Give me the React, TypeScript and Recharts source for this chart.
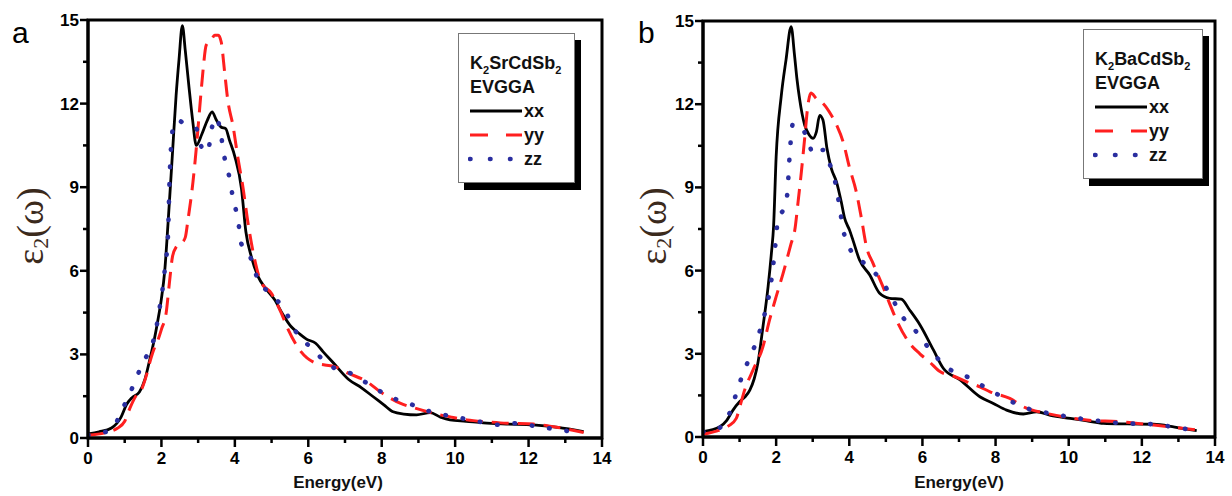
import React from "react";
import { LineChart, Line, XAxis, YAxis, Legend, ReferenceArea, Label } from "recharts";

// energy (eV) and eps2 values
const energyTicks = [0, 1, 2, 3, 4, 5, 6, 7, 8, 9, 10, 11, 12, 13, 14];
const epsTicks = [0, 1.5, 3, 4.5, 6, 7.5, 9, 10.5, 12, 13.5, 15];
const seriesNames = ["xx", "yy", "zz"];

// panel a : K2SrCdSb2
const srXx = [
  [0, 0.15], [0.3, 0.22], [0.64, 0.36], [0.9, 0.75], [1.05, 1.2], [1.2, 1.45], [1.4, 1.65], [1.55, 2.1],
  [1.68, 2.8], [1.8, 3.5], [1.9, 4.2], [2.0, 5.0], [2.09, 6.0], [2.18, 7.7], [2.3, 10.2], [2.4, 12.3],
  [2.48, 13.6], [2.57, 14.8], [2.65, 13.9], [2.75, 12.6], [2.85, 11.4], [2.95, 10.5], [3.1, 10.9],
  [3.25, 11.4], [3.38, 11.7], [3.5, 11.4], [3.63, 11.15], [3.75, 11.1], [3.85, 10.7], [4.0, 10.1],
  [4.18, 8.95], [4.3, 7.4], [4.45, 6.5], [4.63, 5.8], [4.85, 5.35], [5.09, 4.95], [5.3, 4.45],
  [5.53, 4.0], [5.75, 3.75], [5.95, 3.55], [6.2, 3.4], [6.4, 3.1], [6.68, 2.7], [7.1, 2.1],
  [7.45, 1.8], [7.77, 1.48], [8.05, 1.2], [8.31, 0.94], [8.6, 0.86], [8.95, 0.83], [9.32, 0.91],
  [9.6, 0.75], [9.86, 0.65], [10.3, 0.6], [10.77, 0.54], [11.4, 0.5], [12.13, 0.47], [12.8, 0.38],
  [13.5, 0.23],
];
const srYy = [
  [0, 0.1], [0.5, 0.2], [0.8, 0.35], [1.0, 0.6], [1.15, 1.1], [1.3, 1.5], [1.45, 1.72], [1.58, 2.2],
  [1.68, 2.7], [1.8, 3.2], [1.9, 3.5], [2.0, 3.9], [2.13, 4.5], [2.22, 5.6], [2.3, 6.5], [2.4, 6.85],
  [2.55, 7.0], [2.65, 7.2], [2.72, 7.8], [2.86, 9.2], [2.95, 10.4], [3.04, 11.8], [3.13, 13.15],
  [3.22, 14.1], [3.36, 14.3], [3.45, 14.45], [3.55, 14.45], [3.63, 14.2], [3.72, 13.15], [3.81, 12.1],
  [3.95, 11.2], [4.09, 10.0], [4.22, 9.0], [4.36, 7.7], [4.54, 6.4], [4.71, 5.6], [4.99, 5.2],
  [5.26, 4.5], [5.45, 3.9], [5.8, 3.1], [6.18, 2.7], [6.45, 2.62], [6.72, 2.56], [7.08, 2.33],
  [7.6, 2.02], [7.96, 1.66], [8.5, 1.25], [8.91, 1.07], [9.4, 0.89], [9.9, 0.75], [10.32, 0.65],
  [10.9, 0.58], [11.41, 0.53], [12.13, 0.5], [12.8, 0.38], [13.5, 0.2],
];
const srZz = [
  [0, 0.1], [0.35, 0.18], [0.64, 0.3], [0.91, 0.95], [1.05, 1.35], [1.18, 1.72], [1.41, 2.44],
  [1.58, 2.9], [1.72, 3.23], [1.86, 3.95], [1.95, 4.66], [2.04, 5.43], [2.1, 6.15], [2.18, 7.3],
  [2.22, 9.2], [2.27, 10.6], [2.35, 11.3], [2.45, 11.4], [2.6, 11.3], [2.72, 11.2], [2.85, 11.15],
  [2.95, 11.1], [3.09, 10.45], [3.2, 10.25], [3.27, 10.3], [3.36, 11.05], [3.5, 11.5], [3.63, 10.8],
  [3.72, 10.05], [3.86, 9.3], [3.95, 8.6], [4.09, 7.8], [4.17, 7.0], [4.45, 6.4], [4.63, 5.67],
  [4.9, 5.25], [5.36, 4.59], [5.63, 3.88], [6.09, 3.22], [6.64, 2.56], [7.14, 2.33], [7.68, 1.9],
  [8.23, 1.48], [8.86, 1.18], [9.41, 0.91], [9.95, 0.77], [10.6, 0.6], [11.23, 0.47], [11.68, 0.53],
  [12.2, 0.42], [12.77, 0.31], [13.4, 0.19], [13.5, 0.18],
];

// panel b : K2BaCdSb2
const baXx = [
  [0, 0.19], [0.46, 0.37], [0.65, 0.6], [0.82, 0.97], [1.0, 1.27], [1.15, 1.45], [1.28, 1.69],
  [1.4, 2.1], [1.5, 2.66], [1.64, 3.98], [1.78, 5.42], [1.87, 6.62], [1.93, 7.6], [2.0, 10.1],
  [2.14, 12.3], [2.27, 13.6], [2.41, 14.8], [2.5, 13.8], [2.57, 12.9], [2.64, 12.2], [2.78, 11.25],
  [2.9, 10.9], [3.01, 10.77], [3.1, 11.0], [3.19, 11.6], [3.28, 11.43], [3.39, 10.4], [3.51, 9.68],
  [3.65, 9.2], [3.78, 8.48], [3.87, 7.9], [4.01, 7.45], [4.1, 7.1], [4.28, 6.38], [4.56, 5.84],
  [4.83, 5.18], [5.1, 5.0], [5.42, 4.97], [5.65, 4.58], [5.93, 4.05], [6.3, 3.14], [6.57, 2.48],
  [7.03, 2.06], [7.57, 1.45], [7.94, 1.21], [8.3, 0.97], [8.76, 0.83], [9.12, 0.91], [9.5, 0.78],
  [10.04, 0.67], [10.5, 0.58], [10.95, 0.49], [11.6, 0.47], [12.32, 0.46], [12.9, 0.36], [13.5, 0.23],
];
const baYy = [
  [0, 0.1], [0.46, 0.25], [0.7, 0.4], [0.91, 0.67], [1.02, 1.15], [1.14, 1.7], [1.37, 2.42],
  [1.64, 3.26], [1.82, 4.22], [2.0, 5.06], [2.19, 5.9], [2.41, 6.98], [2.51, 7.46], [2.6, 8.48],
  [2.69, 9.56], [2.78, 10.77], [2.87, 11.97], [2.95, 12.4], [3.1, 12.2], [3.28, 12.03], [3.51, 11.6],
  [3.67, 11.2], [3.83, 10.65], [4.01, 9.69], [4.19, 8.85], [4.33, 7.9], [4.47, 6.86], [4.65, 6.26],
  [4.92, 5.42], [5.1, 4.82], [5.29, 4.22], [5.65, 3.38], [5.93, 3.0], [6.2, 2.7], [6.48, 2.36],
  [6.84, 2.2], [7.2, 2.0], [7.57, 1.81], [7.85, 1.63], [8.39, 1.39], [8.76, 1.09], [9.4, 0.85],
  [9.9, 0.72], [10.49, 0.61], [11.4, 0.55], [12.32, 0.43], [12.9, 0.35], [13.5, 0.25],
];
const baZz = [
  [0, 0.19], [0.3, 0.25], [0.59, 0.49], [0.82, 1.21], [1.0, 1.94], [1.23, 2.72], [1.46, 3.44],
  [1.64, 4.22], [1.78, 4.94], [1.87, 5.66], [1.94, 6.44], [2.0, 7.22], [2.05, 7.9], [2.2, 8.2],
  [2.28, 8.5], [2.32, 9.03], [2.35, 9.75], [2.39, 10.53], [2.46, 11.3], [2.6, 11.25], [2.75, 11.05],
  [2.9, 10.6], [3.01, 10.17], [3.15, 10.25], [3.28, 10.35], [3.4, 10.0], [3.51, 9.69], [3.65, 8.97],
  [3.74, 8.25], [3.83, 7.5], [4.01, 6.8], [4.2, 6.5], [4.47, 6.2], [4.79, 5.78], [5.1, 5.18],
  [5.42, 4.4], [5.83, 3.8], [6.25, 3.08], [6.7, 2.48], [7.21, 2.18], [7.76, 1.76], [8.35, 1.33],
  [8.94, 1.0], [9.49, 0.85], [10.13, 0.7], [10.7, 0.6], [11.22, 0.52], [11.8, 0.48], [12.32, 0.46],
  [12.9, 0.35], [13.5, 0.23],
];

const toPoints = (pairs: number[][]) => pairs.map(([e, v]) => ({ e, v }));

const SANS = "'Liberation Sans', Arial, sans-serif";
const SERIF = "'Liberation Serif', 'Times New Roman', serif";

const lineStyle: Record<string, any> = {
  xx: { stroke: "#000000", strokeWidth: 2.8 },
  yy: { stroke: "#ff1f1f", strokeWidth: 3, strokeDasharray: "17 9" },
  zz: { stroke: "#2a2ea0", strokeWidth: 4.6, strokeDasharray: "0.5 17", strokeLinecap: "round" },
};
const legendDash: Record<string, string | undefined> = { xx: undefined, yy: "18 18", zz: "0.5 19.5" };

const XTick = (props: any) => {
  const { x, y, payload } = props;
  const v = payload.value;
  const major = v % 2 === 0;
  return (
    <g>
      <line x1={x} x2={x} y1={y} y2={y + (major ? 9 : 5)} stroke="#000" strokeWidth={2.5} />
      {major && (
        <text x={x} y={y + 26} textAnchor="middle" fontFamily={SANS} fontWeight="bold" fontSize={17} fill="#000">
          {v}
        </text>
      )}
    </g>
  );
};

const YTick = (props: any) => {
  const { x, y, payload } = props;
  const v = payload.value;
  const major = Math.abs(v % 3) < 1e-6;
  return (
    <g>
      <line x1={x} x2={x - (major ? 8 : 5)} y1={y} y2={y} stroke="#000" strokeWidth={2.5} />
      {major && (
        <text x={x - 9} y={y + 6} textAnchor="end" fontFamily={SANS} fontWeight="bold" fontSize={17} fill="#000">
          {v}
        </text>
      )}
    </g>
  );
};

const Sub = ({ children }: { children: React.ReactNode }) => (
  <span style={{ fontSize: 11, position: "relative", top: 5 }}>{children}</span>
);

const LegendBox = ({ payload, title, width }: any) => (
  <div style={{ position: "relative", width: width + 6, height: 157 }}>
    <div style={{ position: "absolute", left: 6, top: 7, width, height: 150, background: "#000" }} />
    <div
      style={{
        position: "absolute", left: 0, top: 0, width, height: 150, boxSizing: "border-box",
        background: "#fff", border: "1px solid #777", paddingTop: 17,
        fontFamily: SANS, fontWeight: "bold", fontSize: 18, color: "#111",
      }}
    >
      <div style={{ height: 24, lineHeight: "24px", paddingLeft: 11, whiteSpace: "nowrap" }}>{title}</div>
      <div style={{ height: 24, lineHeight: "24px", paddingLeft: 11 }}>EVGGA</div>
      {(payload || []).map((p: any) => (
        <div key={p.value} style={{ height: 24, display: "flex", alignItems: "center", paddingLeft: 9 }}>
          <svg width={55} height={24} style={{ display: "block" }}>
            <line
              x1={2} x2={54} y1={12} y2={12}
              stroke={lineStyle[p.value].stroke}
              strokeWidth={lineStyle[p.value].strokeWidth}
              strokeDasharray={legendDash[p.value]}
              strokeLinecap={lineStyle[p.value].strokeLinecap}
            />
          </svg>
          <span style={{ marginLeft: 1, lineHeight: "24px" }}>{p.value}</span>
        </div>
      ))}
    </div>
  </div>
);

type PanelProps = {
  left: number;
  letter: string;
  letterX: number;
  title: React.ReactNode;
  legendPos: { left: number; top: number; width: number };
  margin: { top: number; right: number; bottom: number; left: number };
  yLabelX: number;
  xLabelX: number;
  series: number[][][];
};

const Panel = ({ left, letter, letterX, title, legendPos, margin, yLabelX, xLabelX, series }: PanelProps) => (
  <div style={{ position: "absolute", left, top: 0 }}>
    <LineChart width={616} height={496} margin={margin}>
      <XAxis
        dataKey="e" type="number" domain={[0, 14]} ticks={energyTicks} interval={0}
        allowDataOverflow height={30} tickSize={0} tickMargin={0} tickLine={false}
        axisLine={{ stroke: "#000", strokeWidth: 3 }} tick={<XTick />}
      >
        <Label
          content={() => (
            <text x={xLabelX} y={488} textAnchor="middle" fontFamily={SANS} fontWeight="bold" fontSize={17} fill="#111">
              Energy(eV)
            </text>
          )}
        />
      </XAxis>
      <YAxis
        type="number" domain={[0, 15]} ticks={epsTicks} interval={0} allowDataOverflow
        width={40} tickSize={0} tickMargin={0} tickLine={false}
        axisLine={{ stroke: "#000", strokeWidth: 3 }} tick={<YTick />}
      >
        <Label
          content={() => (
            <g>
              <text x={letterX} y={43} fontFamily={SANS} fontSize={30} fill="#000">{letter}</text>
              <text
                transform={`translate(${yLabelX},226) rotate(-90)`} textAnchor="middle"
                fontFamily={SERIF} fontSize={38} fill="#3b2a1c"
              >
                ε<tspan fontSize={22} dy={5}>2</tspan>
                <tspan dy={-5}>(</tspan>
                <tspan>ω</tspan>
                <tspan>)</tspan>
              </text>
            </g>
          )}
        />
      </YAxis>
      <ReferenceArea x1={0} x2={14} y1={0} y2={15} fill="none" stroke="#000" strokeWidth={3} />
      {seriesNames.map((name, i) => (
        <Line
          key={name}
          name={name}
          data={toPoints(series[i])}
          dataKey="v"
          type="monotone"
          dot={false}
          activeDot={false}
          isAnimationActive={false}
          {...lineStyle[name]}
        />
      ))}
      <Legend
        layout="vertical" align="center" verticalAlign="middle"
        wrapperStyle={{ left: legendPos.left, top: legendPos.top }}
        content={(props: any) => <LegendBox payload={props.payload} title={title} width={legendPos.width} />}
      />
    </LineChart>
  </div>
);

export default function App() {
  return (
    <div style={{ position: "absolute", left: 0, top: 0, width: 1232, height: 496, background: "#fff", overflow: "hidden" }}>
      <Panel
        left={0}
        letter="a"
        letterX={12}
        title={<span>K<Sub>2</Sub>SrCdSb<Sub>2</Sub></span>}
        legendPos={{ left: 458, top: 33, width: 117 }}
        margin={{ top: 20, right: 14, bottom: 28, left: 48 }}
        yLabelX={43}
        xLabelX={338}
        series={[srXx, srYy, srZz]}
      />
      <Panel
        left={616}
        letter="b"
        letterX={22}
        title={<span>K<Sub>2</Sub>BaCdSb<Sub>2</Sub></span>}
        legendPos={{ left: 467, top: 29, width: 120 }}
        margin={{ top: 21, right: 17, bottom: 29, left: 47 }}
        yLabelX={50}
        xLabelX={343}
        series={[baXx, baYy, baZz]}
      />
    </div>
  );
}
